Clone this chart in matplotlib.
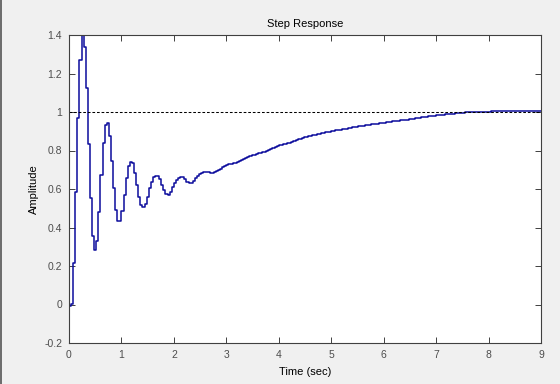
import numpy as np
import matplotlib
matplotlib.use("Agg")
import matplotlib.pyplot as plt
from matplotlib.ticker import FormatStrFormatter
from matplotlib.lines import Line2D

plt.rcParams['font.family'] = ['Liberation Sans', 'DejaVu Sans']

# sample time of the discrete response (sec)
t_step = 0.04

# oscillating start, samples 0..56
amp_start = [
    -0.008, 0.001, 0.215, 0.585, 0.970, 1.270, 1.400, 1.336, 1.123, 0.834,
    0.553, 0.356, 0.283, 0.331, 0.482, 0.673, 0.837, 0.932, 0.944, 0.875,
    0.745, 0.607, 0.491, 0.434, 0.434, 0.486, 0.569, 0.656, 0.719, 0.742,
    0.733, 0.681, 0.621, 0.560, 0.517, 0.505, 0.522, 0.560, 0.604, 0.638,
    0.664, 0.667, 0.667, 0.650, 0.621, 0.595, 0.574, 0.569, 0.586, 0.612,
    0.633, 0.647, 0.659, 0.664, 0.664, 0.650, 0.638,
]

# slow rise, samples 57..225
amp_tail = [
    0.630, 0.633, 0.643, 0.656, 0.668, 0.678, 0.685, 0.688, 0.688, 0.688,
    0.684, 0.683, 0.688, 0.691, 0.697, 0.705, 0.714, 0.722, 0.726, 0.730,
    0.732, 0.733, 0.736, 0.741, 0.745, 0.750, 0.755, 0.760, 0.767, 0.772,
    0.776, 0.778, 0.781, 0.785, 0.787, 0.790, 0.792, 0.795, 0.802, 0.808,
    0.815, 0.819, 0.823, 0.826, 0.830, 0.833, 0.835, 0.838, 0.841, 0.845,
    0.850, 0.855, 0.859, 0.862, 0.865, 0.868, 0.871, 0.874, 0.877, 0.880,
    0.883, 0.885, 0.888, 0.890, 0.892, 0.894, 0.896, 0.898, 0.900, 0.902,
    0.904, 0.906, 0.908, 0.910, 0.912, 0.914, 0.916, 0.918, 0.920, 0.922,
    0.924, 0.926, 0.928, 0.929, 0.931, 0.933, 0.934, 0.936, 0.937, 0.939,
    0.940, 0.942, 0.943, 0.945, 0.946, 0.948, 0.949, 0.951, 0.952, 0.954,
    0.955, 0.957, 0.958, 0.960, 0.961, 0.963, 0.964, 0.966, 0.967, 0.969,
    0.970, 0.972, 0.974, 0.975, 0.977, 0.978, 0.980, 0.981, 0.983, 0.984,
    0.985, 0.987, 0.988, 0.989, 0.990, 0.991, 0.992, 0.993, 0.994, 0.995,
    0.996, 0.997, 0.998, 0.998, 0.999, 0.999, 1.000, 1.000, 1.001, 1.001,
    1.001, 1.002, 1.002, 1.002, 1.003, 1.003, 1.003, 1.004, 1.004, 1.004,
    1.004, 1.004, 1.004, 1.004, 1.004, 1.004, 1.004, 1.004, 1.004, 1.004,
    1.004, 1.004, 1.004, 1.004, 1.004, 1.004, 1.004, 1.004, 1.004,
]

final_value = 1.0
x_ticks = list(range(0, 10))
y_ticks = [-0.2, 0, 0.2, 0.4, 0.6, 0.8, 1.0, 1.2, 1.4]

amplitude = np.array(amp_start + amp_tail)
t = np.arange(len(amplitude)) * t_step

fig = plt.figure(figsize=(5.6, 3.84), dpi=100, facecolor='#f0f0f0')
ax = fig.add_axes([69 / 560, 1 - 343 / 384, 472 / 560, 308 / 384])
ax.set_facecolor('white')

ax.plot(t, amplitude, drawstyle='steps-post', color='#0c0c9c', lw=1.1)
ax.axhline(final_value, color='black', lw=0.75, ls=(0, (2.6, 1.8)))

ax.set_xlim(0, 9)
ax.set_ylim(-0.2, 1.4)
ax.set_xticks(x_ticks)
ax.set_yticks(y_ticks)
ax.yaxis.set_major_formatter(FormatStrFormatter('%g'))

ax.tick_params(direction='in', top=True, right=True, length=4, width=0.7,
               color='#404040', labelcolor='#4d4d4d', labelsize=7.5, pad=5)
for s in ax.spines.values():
    s.set_color('#404040')
    s.set_linewidth(0.8)

ax.set_title('Step Response', fontsize=8, color='black', pad=5.5)
ax.set_xlabel('Time (sec)', fontsize=8, labelpad=5)
ax.set_ylabel('Amplitude', fontsize=8, labelpad=4)

# dark window border on the left edge
fig.add_artist(Line2D([0.001, 0.001], [0, 1], color='#555555', lw=1.2,
                      transform=fig.transFigure))

fig.savefig('out.png', dpi=100, facecolor=fig.get_facecolor())
